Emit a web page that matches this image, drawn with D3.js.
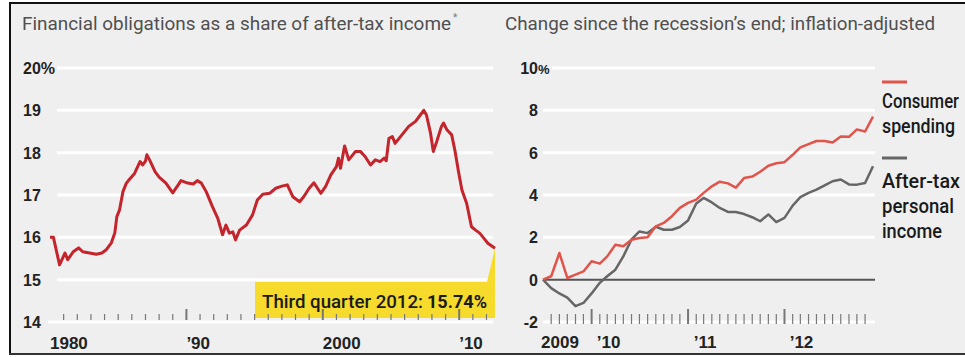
<!DOCTYPE html>
<html>
<head>
<meta charset="utf-8">
<script src="https://cdn.jsdelivr.net/npm/d3@7/dist/d3.min.js"></script>
<style>
  body { margin: 0; background: #fff; }
  svg { display: block; font-family: Roboto, "Liberation Sans", sans-serif; }
</style>
</head>
<body>
<div id="chart"></div>
<script>
// Left panel: financial obligations ratio, % of after-tax income
const obligYears = [1980.0, 1980.25, 1980.7, 1981.1, 1981.3, 1981.7, 1982.1, 1982.4, 1982.9, 1983.4,
  1983.8, 1984.1, 1984.5, 1984.75, 1984.9, 1985.1, 1985.35, 1985.6, 1985.8, 1986.2,
  1986.6, 1986.8, 1987.0, 1987.1, 1987.3, 1987.7, 1988.0, 1988.5, 1989.0, 1989.4,
  1989.6, 1990.0, 1990.5, 1990.8, 1991.1, 1991.45, 1991.9, 1992.3, 1992.65, 1992.9,
  1993.15, 1993.4, 1993.6, 1993.9, 1994.4, 1994.85, 1995.2, 1995.6, 1996.1, 1996.55,
  1997.0, 1997.4, 1997.8, 1998.3, 1998.6, 1999.0, 1999.35, 1999.85, 2000.2, 2000.6,
  2001.0, 2001.15, 2001.3, 2001.6, 2001.9, 2002.4, 2002.75, 2003.1, 2003.5, 2003.85,
  2004.2, 2004.5, 2004.65, 2004.85, 2005.1, 2005.3, 2005.8, 2006.3, 2006.8, 2007.15,
  2007.4, 2007.6, 2007.9, 2008.1, 2008.35, 2008.7, 2008.85, 2009.1, 2009.45, 2009.7,
  2009.95, 2010.2, 2010.55, 2010.9, 2011.2, 2011.5, 2011.8, 2012.1, 2012.625];
const obligValues = [16.0, 16.0, 15.35, 15.63, 15.47, 15.66, 15.75, 15.66, 15.63, 15.6,
  15.63, 15.7, 15.87, 16.1, 16.49, 16.65, 17.08, 17.28, 17.36, 17.51,
  17.79, 17.71, 17.8, 17.95, 17.83, 17.55, 17.42, 17.28, 17.05, 17.24,
  17.34, 17.29, 17.26, 17.34, 17.28, 17.08, 16.73, 16.45, 16.06, 16.29,
  16.1, 16.13, 15.94, 16.17, 16.29, 16.53, 16.88, 17.02, 17.04, 17.16,
  17.21, 17.24, 16.96, 16.84, 16.96, 17.16, 17.29, 17.04, 17.2, 17.48,
  17.67, 17.87, 17.63, 18.16, 17.83, 18.03, 18.03, 17.91, 17.71, 17.83,
  17.79, 17.87, 17.81, 18.34, 18.38, 18.22, 18.42, 18.62, 18.74, 18.89,
  19.0, 18.89, 18.46, 18.03, 18.26, 18.62, 18.7, 18.54, 18.42, 18.03,
  17.55, 17.12, 16.8, 16.25, 16.17, 16.1, 15.98, 15.86, 15.74];
const leftTicks = [14, 15, 16, 17, 18, 19, 20];
const leftYearLabels = [[1980, "1980"], [1990, "\u201990"], [2000, "2000"], [2010, "\u201910"]];

// Right panel: % change since recession's end, monthly Jul 2009 - Dec 2012
const months = d3.timeMonth.range(new Date(2009, 6, 1), new Date(2013, 0, 1));
const spendValues = [0, 0.16, 1.26, 0.08, 0.24, 0.39, 0.87, 0.76, 1.1, 1.65,
  1.58, 1.89, 1.97, 2.0, 2.52, 2.68, 3.0, 3.39, 3.63, 3.78,
  4.1, 4.41, 4.63, 4.55, 4.35, 4.8, 4.87, 5.1, 5.38, 5.5,
  5.55, 5.9, 6.25, 6.4, 6.55, 6.55, 6.48, 6.76, 6.75, 7.1,
  7.0, 7.7];
const incomeValues = [0, -0.4, -0.65, -0.85, -1.25, -1.1, -0.65, -0.15, 0.16, 0.47,
  1.1, 1.9, 2.28, 2.2, 2.5, 2.36, 2.36, 2.49, 2.8, 3.6,
  3.86, 3.65, 3.39, 3.2, 3.2, 3.1, 2.95, 2.76, 3.08, 2.72,
  2.92, 3.5, 3.9, 4.1, 4.25, 4.45, 4.65, 4.73, 4.5, 4.49,
  4.57, 5.36];
const rightTicks = [-2, 0, 2, 4, 6, 8, 10];
const rightYearLabels = [[new Date(2009, 6, 1), "2009"], [new Date(2010, 0, 1), "\u201910"],
  [new Date(2011, 0, 1), "\u201911"], [new Date(2012, 0, 1), "\u201912"]];

const W = 965, H = 357;
const svg = d3.select("#chart").append("svg").attr("width", W).attr("height", H);

// panel background + frame
svg.append("rect").attr("x", 10).attr("y", 3).attr("width", W - 10).attr("height", 351).attr("fill", "#efefef");
svg.append("line").attr("x1", 9).attr("x2", W).attr("y1", 3).attr("y2", 3).attr("stroke", "#111").attr("stroke-width", 2);
svg.append("line").attr("x1", 10).attr("x2", 10).attr("y1", 3).attr("y2", 355).attr("stroke", "#111").attr("stroke-width", 2);
svg.append("line").attr("x1", 9).attr("x2", W).attr("y1", 354).attr("y2", 354).attr("stroke", "#333").attr("stroke-width", 2);

// ---------- left chart ----------
const xL = d3.scaleLinear().domain([1980, 2012.625]).range([50, 495]);
const yL = d3.scaleLinear().domain([14, 20]).range([322, 68]);

svg.append("text").attr("x", 22).attr("y", 30).attr("font-size", 19).attr("fill", "#505050")
  .attr("textLength", 429).attr("lengthAdjust", "spacingAndGlyphs")
  .text("Financial obligations as a share of after-tax income");
svg.append("text").attr("x", 453).attr("y", 21).attr("font-size", 10).attr("fill", "#777").text("*");

const gL = svg.append("g");
gL.selectAll(".grid").data(leftTicks.filter(d => d > 14)).join("line")
  .attr("x1", 57).attr("x2", 493)
  .attr("y1", d => yL(d)).attr("y2", d => yL(d))
  .attr("stroke", "#fff").attr("stroke-width", 3);
gL.append("line").attr("x1", 48).attr("x2", 493).attr("y1", yL(14)).attr("y2", yL(14))
  .attr("stroke", "#fff").attr("stroke-width", 3);

gL.selectAll(".ylab").data(leftTicks).join("text")
  .attr("x", 23).attr("y", d => yL(d) + 6)
  .attr("font-size", 16).attr("font-weight", "bold").attr("fill", "#222")
  .attr("font-family", "'Liberation Sans', Arial, sans-serif")
  .text(d => d === 20 ? "20%" : d);

// callout box
const lastX = xL(obligYears[obligYears.length - 1]);
const lastY = yL(obligValues[obligValues.length - 1]);
gL.append("path")
  .attr("d", `M255,282 H${lastX - 8} L${lastX},${lastY} V318 H255 Z`)
  .attr("fill", "#f6db2c");
gL.append("text").attr("x", 262).attr("y", 308).attr("font-size", 19).attr("font-weight", 500)
  .attr("fill", "#1a1a1a").attr("textLength", 161).attr("lengthAdjust", "spacingAndGlyphs")
  .text("Third quarter 2012:");
gL.append("text").attr("x", 427).attr("y", 308).attr("font-size", 19).attr("font-weight", "bold")
  .attr("fill", "#1a1a1a").attr("textLength", 60).attr("lengthAdjust", "spacingAndGlyphs")
  .text("15.74%");

// year ticks
const yearTicks = d3.range(1981, 2013);
gL.selectAll(".tick").data(yearTicks).join("line")
  .attr("x1", d => xL(d)).attr("x2", d => xL(d))
  .attr("y1", d => d % 10 === 0 ? 309 : 314).attr("y2", 320)
  .attr("stroke", "#777").attr("stroke-width", d => d % 10 === 0 ? 2 : 1.2);

gL.selectAll(".xlab").data(leftYearLabels).join("text")
  .attr("x", d => xL(d[0])).attr("y", 349)
  .attr("font-size", 17).attr("font-weight", "bold").attr("fill", "#222")
  .attr("font-family", "'Liberation Sans', Arial, sans-serif")
  .text(d => d[1]);

const lineL = d3.line().x((d, i) => xL(obligYears[i])).y(d => yL(d));
gL.append("path").datum(obligValues).attr("d", lineL)
  .attr("fill", "none").attr("stroke", "#c4242b").attr("stroke-width", 3)
  .attr("stroke-linejoin", "round");

// ---------- right chart ----------
const xR = d3.scaleTime().domain([months[0], months[months.length - 1]]).range([543, 873]);
const yR = d3.scaleLinear().domain([-2, 10]).range([322, 68]);

svg.append("text").attr("x", 505).attr("y", 30).attr("font-size", 19).attr("fill", "#505050")
  .attr("textLength", 430).attr("lengthAdjust", "spacingAndGlyphs")
  .text("Change since the recession\u2019s end; inflation-adjusted");

const gR = svg.append("g");
gR.selectAll(".grid").data(rightTicks.filter(d => d > 0)).join("line")
  .attr("x1", d => d === 10 ? 552 : 543).attr("x2", 875)
  .attr("y1", d => yR(d)).attr("y2", d => yR(d))
  .attr("stroke", "#fff").attr("stroke-width", 3);
gR.append("line").attr("x1", 543).attr("x2", 875).attr("y1", yR(-2)).attr("y2", yR(-2))
  .attr("stroke", "#fff").attr("stroke-width", 3);
gR.append("line").attr("x1", 543).attr("x2", 875).attr("y1", yR(0)).attr("y2", yR(0))
  .attr("stroke", "#555").attr("stroke-width", 2);

gR.selectAll(".ylab").data(rightTicks).join("text")
  .attr("x", 538).attr("y", d => yR(d) + 6).attr("text-anchor", "end")
  .attr("font-size", 16).attr("font-weight", "bold").attr("fill", "#222")
  .attr("font-family", "'Liberation Sans', Arial, sans-serif")
  .text(d => d);
svg.append("text").attr("x", 538).attr("y", yR(10) + 6)
  .attr("font-size", 13).attr("font-weight", "bold").attr("fill", "#222")
  .attr("font-family", "'Liberation Sans', Arial, sans-serif").text("%");

const monthTicks = months.slice(1, months.length - 1);
gR.selectAll(".tick").data(monthTicks).join("line")
  .attr("x1", d => xR(d)).attr("x2", d => xR(d))
  .attr("y1", d => d.getMonth() === 0 ? 309 : 314).attr("y2", 324)
  .attr("stroke", "#777").attr("stroke-width", d => d.getMonth() === 0 ? 2 : 1.2);

gR.selectAll(".xlab").data(rightYearLabels).join("text")
  .attr("x", d => xR(d[0]) + 17).attr("y", 348).attr("text-anchor", "middle")
  .attr("font-size", 17).attr("font-weight", "bold").attr("fill", "#222")
  .attr("font-family", "'Liberation Sans', Arial, sans-serif")
  .text(d => d[1]);

const lineR = d3.line().x((d, i) => xR(months[i])).y(d => yR(d));
gR.append("path").datum(incomeValues).attr("d", lineR)
  .attr("fill", "none").attr("stroke", "#666").attr("stroke-width", 2.5).attr("stroke-linejoin", "round");
gR.append("path").datum(spendValues).attr("d", lineR)
  .attr("fill", "none").attr("stroke", "#e0544b").attr("stroke-width", 2.5).attr("stroke-linejoin", "round");

// legend
const legend = [
  { color: "#e0544b", y: 82, lines: [["Consumer", 77, 108], ["spending", 73, 133]] },
  { color: "#666", y: 158, lines: [["After-tax", 78, 188], ["personal", 72, 213], ["income", 60, 238]] }
];
legend.forEach(g => {
  svg.append("line").attr("x1", 882).attr("x2", 907).attr("y1", g.y).attr("y2", g.y)
    .attr("stroke", g.color).attr("stroke-width", 3);
  g.lines.forEach(([t, w, y]) => {
    svg.append("text").attr("x", 882).attr("y", y).attr("font-size", 20).attr("font-weight", 500)
      .attr("fill", "#1a1a1a").attr("textLength", w).attr("lengthAdjust", "spacingAndGlyphs").text(t);
  });
});
</script>
</body>
</html>
